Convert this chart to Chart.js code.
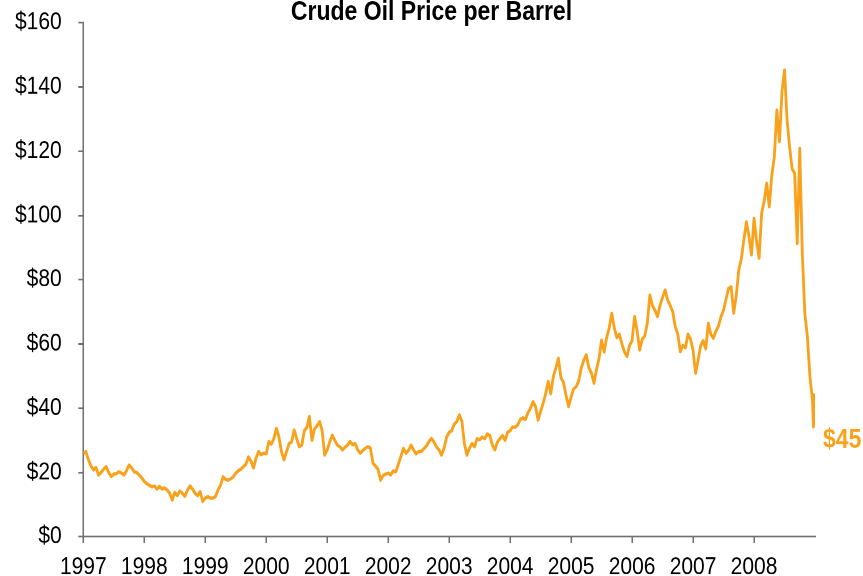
<!DOCTYPE html>
<html>
<head>
<meta charset="utf-8">
<script src="https://cdn.jsdelivr.net/npm/chart.js@4.4.0/dist/chart.umd.min.js"></script>
<style>
html, body { margin:0; padding:0; background:#fff; overflow:hidden; }
#wrap { width:863px; height:576px; }
/* the reference is stretched vertically, so draw at 492px and scale up */
#myChart { transform: scaleY(1.17073); transform-origin: 0 0; }
</style>
</head>
<body>
<div id="wrap"><canvas id="myChart" width="863" height="492"></canvas></div>
<script>
// semi-monthly WTI closes (24 per year)
const years = [1997, 1998, 1999, 2000, 2001, 2002, 2003, 2004, 2005, 2006, 2007, 2008];
const p1997 = [25.9, 26.5, 24.0, 22.0, 20.8, 21.5, 19.2, 20.0, 21.0, 21.8, 20.0, 18.7, 19.5, 19.6, 20.2, 19.8, 19.2, 20.5, 22.3, 21.5, 20.2, 20.0, 19.2, 18.3];
const p1998 = [17.2, 16.5, 16.0, 15.5, 15.8, 14.8, 15.7, 14.8, 15.2, 14.5, 13.5, 11.4, 13.8, 12.8, 14.2, 13.5, 12.6, 14.5, 15.8, 14.8, 13.5, 12.8, 14.0, 11.0];
const p1999 = [12.0, 12.5, 12.0, 12.0, 12.5, 14.5, 16.0, 18.6, 17.8, 17.6, 18.0, 18.6, 19.8, 20.5, 21.0, 21.8, 22.5, 24.8, 23.5, 21.4, 24.5, 26.5, 25.5, 26.0];
const p2000 = [25.8, 29.6, 28.8, 30.5, 33.7, 31.0, 26.5, 23.9, 26.5, 29.0, 29.5, 33.2, 30.5, 28.0, 28.5, 33.0, 34.0, 37.4, 30.0, 33.5, 34.5, 35.8, 33.0, 25.4];
const p2001 = [27.0, 29.5, 31.6, 30.0, 28.5, 28.0, 27.0, 27.8, 28.5, 29.6, 28.6, 29.0, 27.0, 26.0, 26.8, 27.5, 28.0, 27.6, 22.9, 22.0, 21.0, 17.6, 19.0, 19.5];
const p2002 = [19.8, 19.2, 20.5, 20.2, 22.5, 25.0, 27.5, 26.0, 26.8, 28.5, 27.0, 25.8, 26.5, 26.5, 27.3, 28.2, 29.5, 30.6, 29.5, 28.0, 27.0, 25.4, 27.5, 31.0];
const p2003 = [32.5, 33.0, 35.0, 35.8, 37.9, 36.0, 29.0, 25.4, 27.5, 29.0, 28.0, 30.5, 30.2, 31.0, 30.5, 32.0, 31.5, 28.5, 27.0, 29.5, 30.5, 31.5, 30.0, 32.5];
const p2004 = [33.0, 34.2, 34.0, 34.8, 36.5, 37.0, 36.5, 38.5, 40.0, 42.0, 40.5, 36.3, 39.0, 41.5, 44.6, 48.3, 44.5, 49.8, 52.5, 55.5, 49.5, 48.0, 44.0, 40.5];
const p2005 = [43.5, 46.0, 46.7, 48.5, 52.5, 55.0, 56.6, 52.5, 51.0, 47.8, 52.0, 55.5, 61.2, 57.5, 62.0, 65.0, 69.5, 65.0, 62.0, 63.0, 60.0, 57.5, 56.1, 59.5];
const p2006 = [61.0, 68.5, 64.0, 58.1, 61.5, 62.5, 66.5, 75.2, 72.0, 70.5, 68.5, 72.0, 74.5, 76.8, 73.7, 72.0, 70.0, 65.4, 63.0, 57.6, 59.5, 58.8, 63.0, 61.5];
const p2007 = [58.0, 50.9, 55.0, 59.5, 61.0, 58.5, 66.4, 63.0, 61.8, 64.0, 65.5, 68.5, 70.5, 74.0, 77.3, 77.8, 69.6, 75.0, 83.0, 86.5, 92.4, 98.0, 93.5, 87.7];
const p2008 = [99.1, 92.0, 86.7, 100.7, 104.5, 110.0, 102.7, 112.5, 118.3, 132.8, 123.0, 138.5, 145.3, 129.7, 121.4, 114.5, 113.1, 91.3, 120.9, 88.2, 69.5, 62.3, 49.8, 42.5];
// last days of December 2008
const endDates = [2008.975, 2008.995];
const endPrices = [34.2, 44.6];
const endLabel = '$45';

const yTicks = [0, 20, 40, 60, 80, 100, 120, 140, 160];

const lineColor = '#F9A11B';
const axisColor = '#707070';
const fontFamily = '"Liberation Sans", Arial, sans-serif';

const priceByYear = [p1997, p1998, p1999, p2000, p2001, p2002, p2003, p2004, p2005, p2006, p2007, p2008];
const points = [];
years.forEach((yr, k) => {
    priceByYear[k].forEach((v, i) => points.push({x: yr + i / 24, y: v}));
});
endDates.forEach((d, i) => points.push({x: d, y: endPrices[i]}));

// orange "$45" tag to the right of the line end
const endLabelPlugin = {
    id: 'endLabel',
    afterDatasetsDraw(chart) {
        const {ctx, scales} = chart;
        const last = endPrices[endPrices.length - 1];
        ctx.save();
        ctx.font = 'bold 23px ' + fontFamily;
        ctx.fillStyle = lineColor;
        ctx.textAlign = 'left';
        ctx.textBaseline = 'middle';
        ctx.fillText(endLabel, scales.x.getPixelForValue(scales.x.max) + 8, scales.y.getPixelForValue(last) + 40);
        ctx.restore();
    }
};

const ctx = document.getElementById('myChart').getContext('2d');

const myChart = new Chart(ctx, {
    type: 'line',
    data: {
        datasets: [{
            label: 'WTI',
            data: points,
            borderColor: lineColor,
            borderWidth: 2.8,
            borderJoinStyle: 'round',
            pointRadius: 0,
            tension: 0,
            fill: false
        }]
    },
    options: {
        responsive: false,
        devicePixelRatio: 2,
        animation: false,
        layout: { padding: 0 },
        scales: {
            x: {
                type: 'linear',
                min: 1997,
                max: 2009,
                afterBuildTicks: (scale) => {
                    scale.ticks = years.map(v => ({value: v}));
                },
                afterFit: (scale) => { scale.height = 33.6; },
                ticks: {
                    stepSize: 1,
                    padding: 8,
                    color: '#000',
                    font: { family: fontFamily, size: 21 },
                    maxRotation: 0,
                    callback: (v) => String(v)
                },
                grid: {
                    drawOnChartArea: false,
                    drawTicks: true,
                    tickLength: 5.6,
                    color: axisColor,
                    lineWidth: 1.5
                },
                border: { display: true, color: axisColor, width: 1.5 }
            },
            y: {
                min: 0,
                max: 160,
                afterBuildTicks: (scale) => {
                    scale.ticks = yTicks.map(v => ({value: v}));
                },
                afterFit: (scale) => {
                    scale.width = 83.3;
                    // let the plot reach right under the title
                    scale.paddingTop = 0;
                    scale.paddingBottom = 0;
                },
                ticks: {
                    stepSize: 20,
                    padding: 16.6,
                    color: '#000',
                    font: { family: fontFamily, size: 21 },
                    callback: (v) => '$' + v
                },
                grid: {
                    drawOnChartArea: false,
                    drawTicks: true,
                    tickLength: 5,
                    color: axisColor,
                    lineWidth: 1.5
                },
                border: { display: true, color: axisColor, width: 1.5 }
            },
            // empty strip on the right that holds the "$45" tag
            spacer: {
                position: 'right',
                display: true,
                afterFit: (scale) => {
                    scale.width = 48;
                    scale.paddingTop = 0;
                    scale.paddingBottom = 0;
                },
                ticks: { display: false },
                grid: { display: false, drawTicks: false },
                border: { display: false }
            }
        },
        plugins: {
            legend: { display: false },
            tooltip: { enabled: false },
            title: {
                display: true,
                text: 'Crude Oil Price per Barrel',
                color: '#000',
                font: { family: fontFamily, size: 23, weight: 'bold', lineHeight: 0.93 },
                padding: { top: 0, bottom: -2 }
            }
        }
    },
    plugins: [endLabelPlugin]
});
</script>
</body>
</html>
